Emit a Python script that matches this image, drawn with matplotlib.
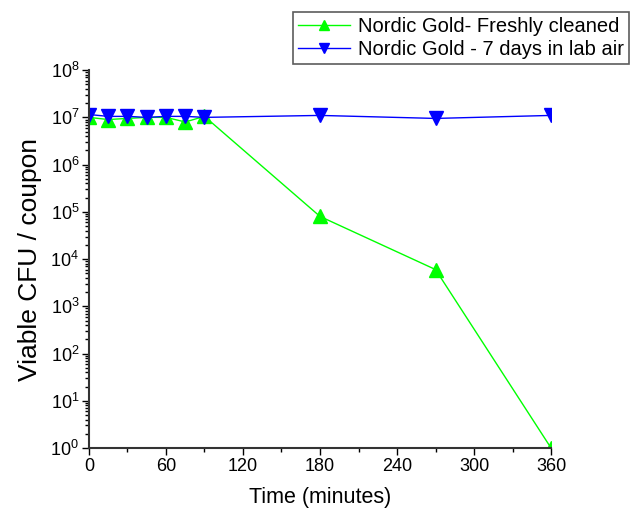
import numpy as np
import matplotlib
matplotlib.use('Agg')
import matplotlib.pyplot as plt
from matplotlib.ticker import LogLocator, MultipleLocator, NullFormatter

plt.rcParams['font.family'] = ['Liberation Sans', 'DejaVu Sans']

time_min = [0, 15, 30, 45, 60, 75, 90, 180, 270, 360]
fresh_cfu = [1.0e7, 9.0e6, 9.5e6, 1.0e7, 1.0e7, 8.0e6, 1.05e7, 8.0e4, 6.0e3, 1.0]
aged_cfu = [1.15e7, 1.05e7, 1.05e7, 1.0e7, 1.05e7, 1.05e7, 1.0e7, 1.1e7, 9.5e6, 1.1e7]
labels = ['Nordic Gold- Freshly cleaned', 'Nordic Gold - 7 days in lab air']

fig = plt.figure(figsize=(6.4, 5.12), dpi=100)
ax = fig.add_axes([0.139, 0.125, 0.722, 0.738])

ax.plot(time_min, fresh_cfu, color='#00ff00', marker='^', markersize=10,
        linewidth=1, label=labels[0])
ax.plot(time_min, aged_cfu, color='#0000ff', marker='v', markersize=10,
        linewidth=1, label=labels[1])

ax.set_yscale('log')
ax.set_xlim(0, 360)
ax.set_ylim(1, 1e8)
ax.xaxis.set_major_locator(MultipleLocator(60))
ax.xaxis.set_minor_locator(MultipleLocator(30))
ax.yaxis.set_major_locator(LogLocator(base=10, numticks=20))
ax.yaxis.set_minor_locator(LogLocator(base=10, subs=np.arange(2, 10), numticks=20))
ax.yaxis.set_minor_formatter(NullFormatter())

for side in ['top', 'right']:
    ax.spines[side].set_visible(False)
for side in ['left', 'bottom']:
    ax.spines[side].set_linewidth(1.5)
    ax.spines[side].set_color('#333333')

ax.tick_params(which='major', direction='out', length=5, width=1, labelsize=13, pad=2)
ax.tick_params(which='minor', direction='out', length=3, width=1)

ax.set_xlabel('Time (minutes)', fontsize=15.5, labelpad=9)
ax.set_ylabel('Viable CFU / coupon', fontsize=19, labelpad=6)

leg = ax.legend(loc='upper left', bbox_to_anchor=(293 / 640, 1 - 12 / 512),
                bbox_transform=fig.transFigure, fontsize=14.5, frameon=True,
                fancybox=False, edgecolor='#333333', borderpad=0.25,
                labelspacing=0.2, handlelength=2.6, handletextpad=0.4,
                borderaxespad=0, markerscale=0.7)
leg.get_frame().set_linewidth(1.2)

fig.savefig('out.png', dpi=100)
